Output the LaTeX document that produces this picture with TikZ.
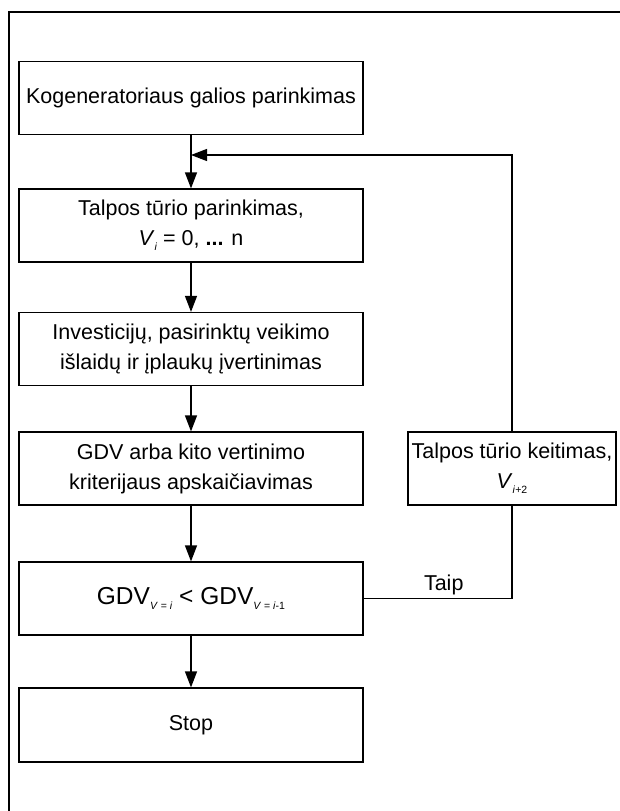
\documentclass[tikz,border=0pt]{standalone}
\usepackage{fontspec}
\setmainfont{Liberation Sans}
\usetikzlibrary{arrows.meta}

\newcommand{\apat}[1]{\raisebox{-0.45ex}{\fontsize{10.5}{10.5}\selectfont #1}}

\tikzset{
  blokas/.style={draw, line width=1.2pt, minimum width=344pt, minimum height=73pt, align=center, inner sep=0pt},
  rodykle/.style={line width=1.2pt, -{Triangle[length=16pt, width=12pt]}}
}

\begin{document}
\begin{tikzpicture}[x=1pt, y=-1pt, font=\fontsize{21.5}{30}\selectfont]

\useasboundingbox (0,0) rectangle (620,811);
\draw[line width=1.4pt] (9,811) -- (9,12) -- (620,12);

\node[blokas] (1) at (191, 98) {Kogeneratoriaus galios parinkimas};
\node[blokas] (2) at (191, 225.5) {Talpos tūrio parinkimas,\\ \textit{V}\apat{\textit{i}} = 0, \textbf{...} n};
\node[blokas] (3) at (191, 349) {Investicijų, pasirinktų veikimo\\ išlaidų ir įplaukų įvertinimas};
\node[blokas] (4) at (191, 468.5) {GDV arba kito vertinimo\\ kriterijaus apskaičiavimas};
\node[blokas, font=\fontsize{24.5}{30}\selectfont] (5) at (191, 598.5) {GDV\apat{\textit{V} = \textit{i}} < GDV\apat{\textit{V} = \textit{i}-1}};
\node[blokas, minimum height=74pt] (6) at (191, 725) {Stop};

\node[blokas, minimum width=208pt] (7) at (512, 468.5) {Talpos tūrio keitimas,\\ \textit{V}\apat{\textit{i}+2}};

\coordinate (m) at (191, 155);

\draw[rodykle] (1) -- (2);
\draw[rodykle] (2) -- (3);
\draw[rodykle] (3) -- (4);
\draw[rodykle] (4) -- (5);
\draw[rodykle] (5) -- (6);

\draw[line width=1.2pt] (5.east) -| node[pos=0.27, above] {Taip} (7.south);
\draw[rodykle] (7.north) |- (m);

\end{tikzpicture}
\end{document}
